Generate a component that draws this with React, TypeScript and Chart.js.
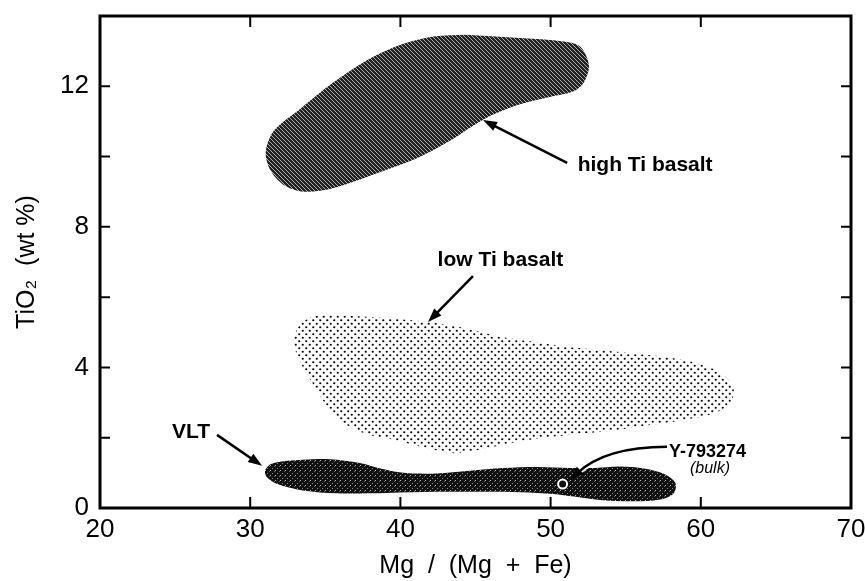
import React, { useEffect, useRef } from 'react';
import { Chart, registerables } from 'chart.js';

Chart.register(...registerables);

// ---- Data (Mg/(Mg+Fe), TiO2 wt%) ----
const xTickValues = [20, 30, 40, 50, 60, 70];
const yTickLabelValues = [0, 4, 8, 12];

const highTiBasalt: [number, number][] = [
  [44.4, 13.47], [47.7, 13.38], [51.0, 13.27], [52.0, 13.12], [52.55, 12.6], [52.2, 12.1],
  [51.5, 11.85], [50.0, 11.7], [47.7, 11.45], [45.5, 11.05], [43.3, 10.45], [41.1, 9.95],
  [38.9, 9.6], [35.5, 9.1], [33.6, 9.0], [32.4, 9.15], [31.6, 9.45], [31.15, 9.8],
  [31.05, 10.2], [31.6, 10.75], [33.3, 11.35], [35.5, 12.1], [37.8, 12.75], [40.0, 13.18],
  [42.2, 13.42], [44.4, 13.47],
];

const lowTiBasalt: [number, number][] = [
  [46.6, 4.87], [51.1, 4.59], [55.5, 4.4], [58.8, 4.21], [61.0, 3.93], [62.05, 3.55],
  [62.2, 3.26], [61.9, 2.95], [60.8, 2.68], [58.8, 2.5], [56.6, 2.36], [54.4, 2.22],
  [52.2, 2.12], [50.0, 2.02], [47.7, 1.88], [45.5, 1.68], [43.6, 1.56], [41.3, 1.75],
  [39.5, 1.95], [37.8, 2.1], [36.3, 2.4], [35.2, 2.85], [34.3, 3.45], [33.4, 4.1],
  [32.9, 4.7], [33.2, 5.15], [34.0, 5.42], [35.1, 5.49], [37.75, 5.44], [41.7, 5.3],
  [44.4, 5.11], [46.6, 4.87],
];

const vltBasalt: [number, number][] = [
  [45.75, 0.46], [42.4, 0.46], [39.1, 0.43], [35.75, 0.42], [33.5, 0.5], [31.8, 0.68],
  [31.1, 0.88], [31.0, 1.08], [31.5, 1.27], [33.5, 1.37], [35.3, 1.39], [37.3, 1.28],
  [38.6, 1.13], [40.2, 1.0], [42.4, 0.98], [44.6, 1.06], [46.85, 1.14], [49.1, 1.17],
  [51.3, 1.14], [53.0, 1.14], [54.6, 1.18], [56.3, 1.12], [57.5, 0.98], [58.3, 0.72],
  [58.2, 0.42], [57.3, 0.24], [55.5, 0.19], [53.5, 0.22], [52.0, 0.3], [50.2, 0.4],
  [48.0, 0.45], [45.75, 0.46],
];

const sampleY793274: [number, number][] = [[50.8, 0.68]];

// ---- Annotations (data coordinates) ----
const labelTexts = ['high Ti basalt', 'low Ti basalt', 'VLT', 'Y-793274', '(bulk)'];
const labelAnchors: [number, number][] = [[51.8, 9.76], [46.66, 7.06], [26.06, 2.17], [57.88, 1.6], [60.61, 1.13]];
const straightArrows: [number, number, number, number][] = [
  [51.1, 9.82, 45.5, 11.04],
  [44.83, 6.6, 41.84, 5.29],
  [27.79, 2.08, 30.79, 1.2],
];
const curvedArrow: [number, number][] = [[57.75, 1.74], [53.62, 1.74], [51.3, 0.8]];

const FONT = '"Liberation Sans", Arial, Helvetica, sans-serif';

function makePattern(kind: 'hatch' | 'dots' | 'stipple'): CanvasPattern | string {
  const c = document.createElement('canvas');
  if (kind === 'hatch') {
    c.width = 4; c.height = 4;
    const g = c.getContext('2d')!;
    g.fillStyle = '#222';
    g.fillRect(0, 0, 4, 4);
    g.strokeStyle = 'rgba(255,255,255,0.62)';
    g.lineWidth = 1;
    g.beginPath();
    g.moveTo(0, 0); g.lineTo(4, 4);
    g.moveTo(-2, 2); g.lineTo(2, 6);
    g.moveTo(2, -2); g.lineTo(6, 2);
    g.stroke();
    return g.createPattern(c, 'repeat') || '#444';
  }
  if (kind === 'dots') {
    c.width = 7; c.height = 7;
    const g = c.getContext('2d')!;
    g.fillStyle = '#000';
    g.beginPath(); g.arc(1.75, 1.75, 1.1, 0, Math.PI * 2); g.fill();
    g.beginPath(); g.arc(5.25, 5.25, 1.1, 0, Math.PI * 2); g.fill();
    return g.createPattern(c, 'repeat') || '#aaa';
  }
  c.width = 5; c.height = 5;
  const g = c.getContext('2d')!;
  g.fillStyle = '#111';
  g.fillRect(0, 0, 5, 5);
  g.fillStyle = 'rgba(255,255,255,0.7)'; g.fillRect(0, 0, 1, 1);
  g.fillStyle = 'rgba(255,255,255,0.5)'; g.fillRect(2, 3, 1, 1);
  g.fillStyle = 'rgba(255,255,255,0.35)'; g.fillRect(4, 1, 1, 1);
  return g.createPattern(c, 'repeat') || '#222';
}

function arrowHead(ctx: CanvasRenderingContext2D, tx: number, ty: number, ang: number) {
  const len = 14, hw = 5;
  ctx.beginPath();
  ctx.moveTo(tx, ty);
  ctx.lineTo(tx - len * Math.cos(ang) + hw * Math.sin(ang), ty - len * Math.sin(ang) - hw * Math.cos(ang));
  ctx.lineTo(tx - len * Math.cos(ang) - hw * Math.sin(ang), ty - len * Math.sin(ang) + hw * Math.cos(ang));
  ctx.closePath();
  ctx.fill();
}

const framePlugin = {
  id: 'frameAndNotes',
  afterDatasetsDraw(chart: any) {
    const { ctx, chartArea: a, scales } = chart;
    const xs = scales.x, ys = scales.y;
    const px = (v: number) => xs.getPixelForValue(v);
    const py = (v: number) => ys.getPixelForValue(v);
    ctx.save();
    ctx.strokeStyle = '#000';
    ctx.fillStyle = '#000';
    // inward ticks
    ctx.lineWidth = 2;
    ctx.beginPath();
    xs.ticks.forEach((t: any) => {
      if (t.value <= xs.min || t.value >= xs.max) return;
      const X = px(t.value);
      ctx.moveTo(X, a.bottom); ctx.lineTo(X, a.bottom - 11);
      ctx.moveTo(X, a.top); ctx.lineTo(X, a.top + 11);
    });
    ys.ticks.forEach((t: any) => {
      if (t.value <= ys.min || t.value >= ys.max) return;
      const Y = py(t.value);
      ctx.moveTo(a.left, Y); ctx.lineTo(a.left + 10, Y);
      ctx.moveTo(a.right, Y); ctx.lineTo(a.right - 10, Y);
    });
    ctx.stroke();
    // frame
    ctx.lineWidth = 3;
    ctx.strokeRect(a.left, a.top, a.right - a.left, a.bottom - a.top);

    // straight arrows
    ctx.lineWidth = 2.5;
    straightArrows.forEach(([x1, y1, x2, y2]) => {
      const X1 = px(x1), Y1 = py(y1), X2 = px(x2), Y2 = py(y2);
      const ang = Math.atan2(Y2 - Y1, X2 - X1);
      ctx.beginPath();
      ctx.moveTo(X1, Y1);
      ctx.lineTo(X2 - 10 * Math.cos(ang), Y2 - 10 * Math.sin(ang));
      ctx.stroke();
      arrowHead(ctx, X2, Y2, ang);
    });

    // curved arrow with white halo
    const [s, c, e] = curvedArrow.map(([u, v]) => [px(u), py(v)]);
    const ang = Math.atan2(e[1] - c[1], e[0] - c[0]);
    const ex = e[0] - 9 * Math.cos(ang), ey = e[1] - 9 * Math.sin(ang);
    ctx.strokeStyle = '#fff';
    ctx.lineWidth = 6;
    ctx.beginPath(); ctx.moveTo(s[0], s[1]); ctx.quadraticCurveTo(c[0], c[1], ex, ey); ctx.stroke();
    ctx.strokeStyle = '#000';
    ctx.lineWidth = 2.5;
    ctx.beginPath(); ctx.moveTo(s[0], s[1]); ctx.quadraticCurveTo(c[0], c[1], ex, ey); ctx.stroke();
    arrowHead(ctx, e[0], e[1], ang);

    // labels
    ctx.textBaseline = 'middle';
    const fonts = [`bold 21px ${FONT}`, `bold 21px ${FONT}`, `bold 21px ${FONT}`, `bold 18px ${FONT}`, `italic 16px ${FONT}`];
    const aligns: CanvasTextAlign[] = ['left', 'center', 'center', 'left', 'center'];
    labelTexts.forEach((txt, i) => {
      ctx.font = fonts[i];
      ctx.textAlign = aligns[i];
      ctx.fillText(txt, px(labelAnchors[i][0]), py(labelAnchors[i][1]));
    });
    ctx.restore();
  },
};

function zeroPad(s: any) {
  s.paddingLeft = 0;
  s.paddingRight = 0;
  s.paddingTop = 0;
  s.paddingBottom = 0;
}

export default function App() {
  const ref = useRef<HTMLCanvasElement | null>(null);
  useEffect(() => {
    if (!ref.current) return;
    const toPts = (arr: [number, number][]) => arr.map(([x, y]) => ({ x, y }));
    const shape = (label: string, arr: [number, number][], bg: any, order: number) => ({
      label,
      data: toPts(arr),
      showLine: true,
      fill: 'shape',
      backgroundColor: bg,
      borderColor: 'rgba(0,0,0,0)',
      borderWidth: 0,
      pointRadius: 0,
      tension: 0.32,
      order,
    });
    const chart = new Chart(ref.current, {
      type: 'scatter',
      data: {
        datasets: [
          {
            label: 'Y-793274 (bulk)',
            data: toPts(sampleY793274),
            pointRadius: 4.5,
            pointBackgroundColor: '#111',
            pointBorderColor: '#fff',
            pointBorderWidth: 2,
            order: 0,
          } as any,
          shape('VLT', vltBasalt, makePattern('stipple'), 1),
          shape('low Ti basalt', lowTiBasalt, makePattern('dots'), 2),
          shape('high Ti basalt', highTiBasalt, makePattern('hatch'), 3),
        ],
      },
      options: {
        animation: false,
        responsive: false,
        maintainAspectRatio: false,
        events: [],
        layout: { padding: { left: 0, right: 14, top: 16, bottom: 0 } },
        plugins: { legend: { display: false }, tooltip: { enabled: false } },
        scales: {
          x: {
            type: 'linear',
            min: 20,
            max: 70,
            afterFit: (s: any) => { s.height = 73; zeroPad(s); },
            afterBuildTicks: (s: any) => { s.ticks = xTickValues.map((v) => ({ value: v })); },
            ticks: {
              stepSize: 10,
              padding: 6,
              color: '#000',
              font: { family: FONT, size: 26 },
              maxRotation: 0,
            },
            grid: { display: true, drawOnChartArea: false, drawTicks: false },
            border: { display: false },
            title: {
              display: true,
              text: 'Mg  /  (Mg  +  Fe)',
              color: '#000',
              font: { family: FONT, size: 25, lineHeight: 1 },
              padding: { top: 0, bottom: 2 },
            },
          },
          y: {
            type: 'linear',
            min: 0,
            max: 14,
            afterFit: (s: any) => { s.width = 100; zeroPad(s); },
            ticks: {
              stepSize: 2,
              padding: 11,
              color: '#000',
              font: { family: FONT, size: 26 },
              callback: (v: any) => (yTickLabelValues.includes(Number(v)) ? String(v) : ''),
            },
            grid: { display: true, drawOnChartArea: false, drawTicks: false },
            border: { display: false },
            title: {
              display: true,
              text: 'TiO₂  (wt %)',
              color: '#000',
              font: { family: FONT, size: 25, lineHeight: 1 },
              padding: { top: 14.5, bottom: 0 },
            },
          },
        },
      } as any,
      plugins: [framePlugin],
    });
    return () => chart.destroy();
  }, []);
  return (
    <div style={{ position: 'fixed', left: 0, top: 0, width: 865, height: 581, background: '#fff' }}>
      <canvas ref={ref} width={865} height={581} style={{ display: 'block' }} />
    </div>
  );
}
